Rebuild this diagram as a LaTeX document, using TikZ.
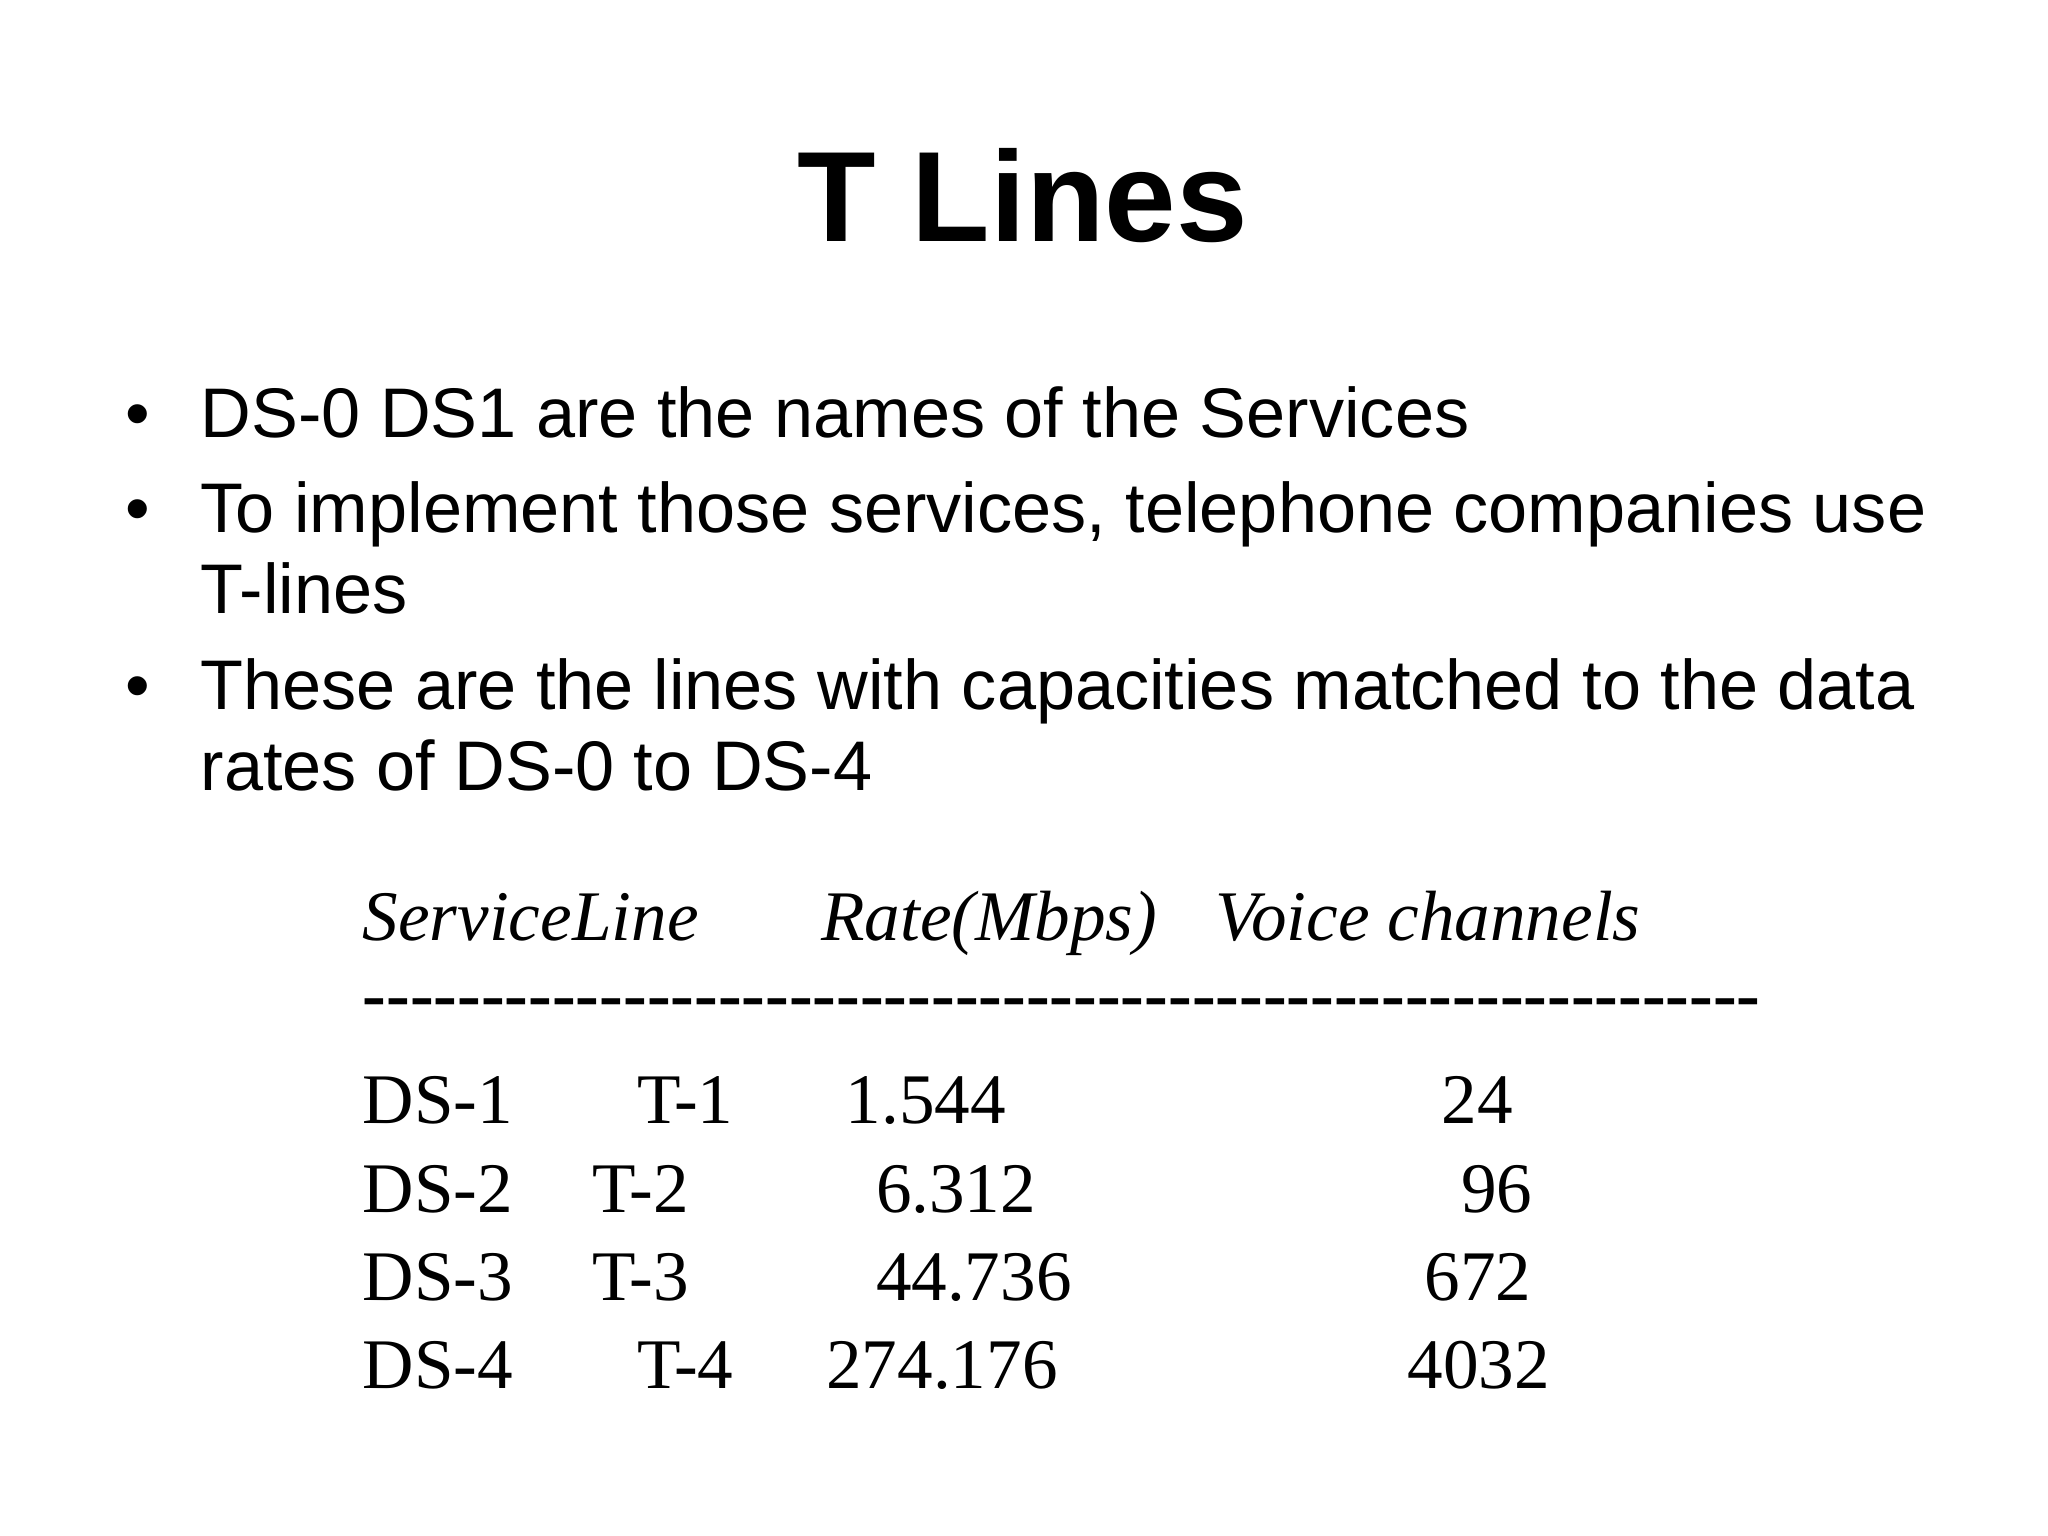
\documentclass[tikz,border=0pt]{standalone}
\usepackage{fontspec}
\setmainfont{Liberation Sans}
\newfontfamily\tms{Liberation Serif}
\begin{document}
\begin{tikzpicture}[x=1cm,y=-1cm,
  txt/.style={anchor=base west,inner sep=0pt,font=\fontsize{15.3pt}{18pt}\selectfont},
  tb/.style={anchor=base west,inner sep=0pt,font=\tms\fontsize{15.5pt}{18pt}\selectfont},
  th/.style={tb,font=\tms\itshape\fontsize{15.5pt}{18pt}\selectfont}]
\useasboundingbox (0,0) rectangle (15.68,11.76);
\node[anchor=base,inner sep=0pt,font=\bfseries\fontsize{28pt}{32pt}\selectfont] (title) at (7.83,1.85) {T Lines};
\foreach \y/\n in {3.35/b1,4.08/b2,5.43/b3}{\node[txt] (\n) at (0.95,\y) {\textbullet};}
\node[txt] (t1) at (1.53,3.35) {DS-0 DS1 are the names of the Services};
\node[txt] (t2) at (1.53,4.08) {To implement those services, telephone companies use};
\node[txt] (t2b) at (1.53,4.70) {T-lines};
\node[txt] (t3) at (1.53,5.43) {These are the lines with capacities matched to the data};
\node[txt] (t3b) at (1.53,6.05) {rates of DS-0 to DS-4};
\node[th] (h1) at (2.77,7.20) {ServiceLine};
\node[th] (h2) at (6.28,7.20) {Rate(Mbps)};
\node[th] (h3) at (9.30,7.20) {Voice channels};
\node[tb,font=\tms\bfseries\fontsize{15.5pt}{18pt}\selectfont] (dash) at (2.77,7.80) {-----------------------------------------------------------};
\node[tb] (r1a) at (2.77,8.60) {DS-1}; \node[tb] (r1b) at (4.87,8.60) {T-1}; \node[tb] (r1c) at (6.47,8.60) {1.544}; \node[tb] (r1d) at (11.03,8.60) {24};
\node[tb] (r2a) at (2.77,9.28) {DS-2}; \node[tb] (r2b) at (4.53,9.28) {T-2}; \node[tb] (r2c) at (6.70,9.28) {6.312}; \node[tb] (r2d) at (11.18,9.28) {96};
\node[tb] (r3a) at (2.77,9.96) {DS-3}; \node[tb] (r3b) at (4.53,9.96) {T-3}; \node[tb] (r3c) at (6.70,9.96) {44.736}; \node[tb] (r3d) at (10.90,9.96) {672};
\node[tb] (r4a) at (2.77,10.63) {DS-4}; \node[tb] (r4b) at (4.87,10.63) {T-4}; \node[tb] (r4c) at (6.32,10.63) {274.176}; \node[tb] (r4d) at (10.77,10.63) {4032};
\end{tikzpicture}
\end{document}
